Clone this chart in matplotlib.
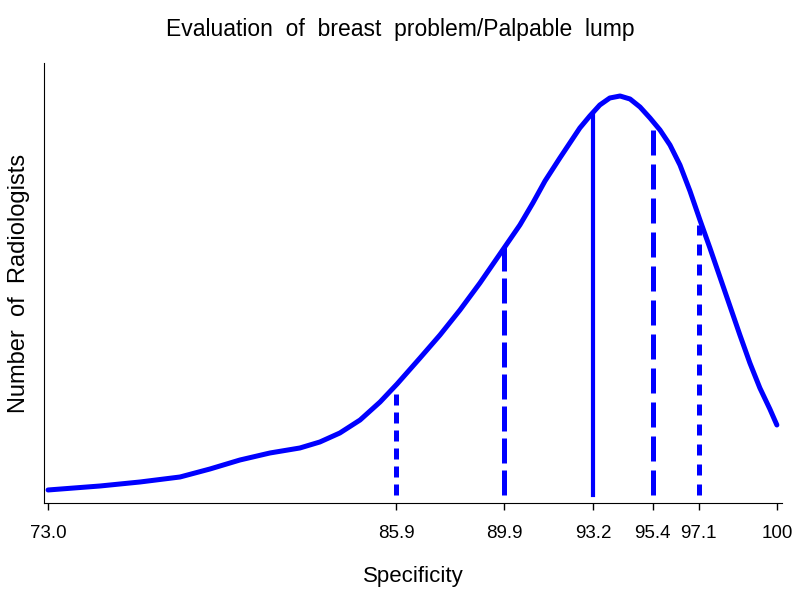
import matplotlib
matplotlib.use('Agg')
import matplotlib.pyplot as plt

# density curve (relative height)
spec = [73.00, 74.93, 76.41, 77.89, 79.00, 80.11, 81.22, 82.33, 83.07, 83.81,
        84.56, 85.30, 85.93, 86.78, 87.52, 88.26, 89.00, 89.74, 90.48, 90.96,
        91.41, 91.96, 92.33, 92.70, 93.07, 93.44, 93.81, 94.19, 94.56, 94.93,
        95.30, 95.67, 96.04, 96.41, 96.78, 97.15, 97.52, 97.89, 98.26, 98.63,
        99.00, 99.37, 99.74, 100.00]
height = [5, 9, 13, 18, 26, 35, 42, 47, 53, 62,
          75, 93, 111, 137, 160, 185, 212, 241, 270, 292,
          314, 337, 352, 367, 379, 390, 397, 399, 396, 388,
          377, 365, 350, 330, 304, 275, 247, 218, 189, 160,
          132, 107, 86, 70]

# reference lines (percentiles / median)
cut_x = [85.9, 89.9, 93.2, 95.4, 97.1]
cut_top = [105, 248, 380, 372, 270]
cut_style = [(0, (2.2, 1.4)), (0, (5, 1.4)), '-', (0, (5, 1.8)), (0, (2.2, 1.8))]
tick_vals = [73.0, 85.9, 89.9, 93.2, 95.4, 97.1, 100]
tick_labels = ['73.0', '85.9', '89.9', '93.2', '95.4', '97.1', '100']

plt.rcParams['font.family'] = ['Liberation Sans', 'DejaVu Sans']

fig = plt.figure(figsize=(8, 6), dpi=100)
ax = fig.add_axes([0.055, 0.1617, 0.9225, 0.7333])

ax.plot(spec, height, color='blue', lw=3.6, solid_capstyle='round', solid_joinstyle='round')
for x, top, ls in zip(cut_x, cut_top, cut_style):
    lw = 3.0 if ls == '-' else 3.6
    ax.plot([x, x], [0, top], color='blue', lw=lw, linestyle=ls)

ax.set_xlim(72.85, 100.19)
ax.set_ylim(-8, 432)
ax.set_xticks(tick_vals)
ax.set_xticklabels(tick_labels, fontsize=13.5)
ax.set_yticks([])
ax.tick_params(axis='x', length=5, width=1, pad=11, direction='out')
ax.spines['top'].set_visible(False)
ax.spines['right'].set_visible(False)

ax.set_xlabel('Specificity', fontsize=16, labelpad=17)
ax.set_ylabel('Number  of  Radiologists', fontsize=17, labelpad=10)
fig.suptitle('Evaluation  of  breast  problem/Palpable  lump', fontsize=16.5, y=0.97)

plt.savefig('out.png', dpi=100)
